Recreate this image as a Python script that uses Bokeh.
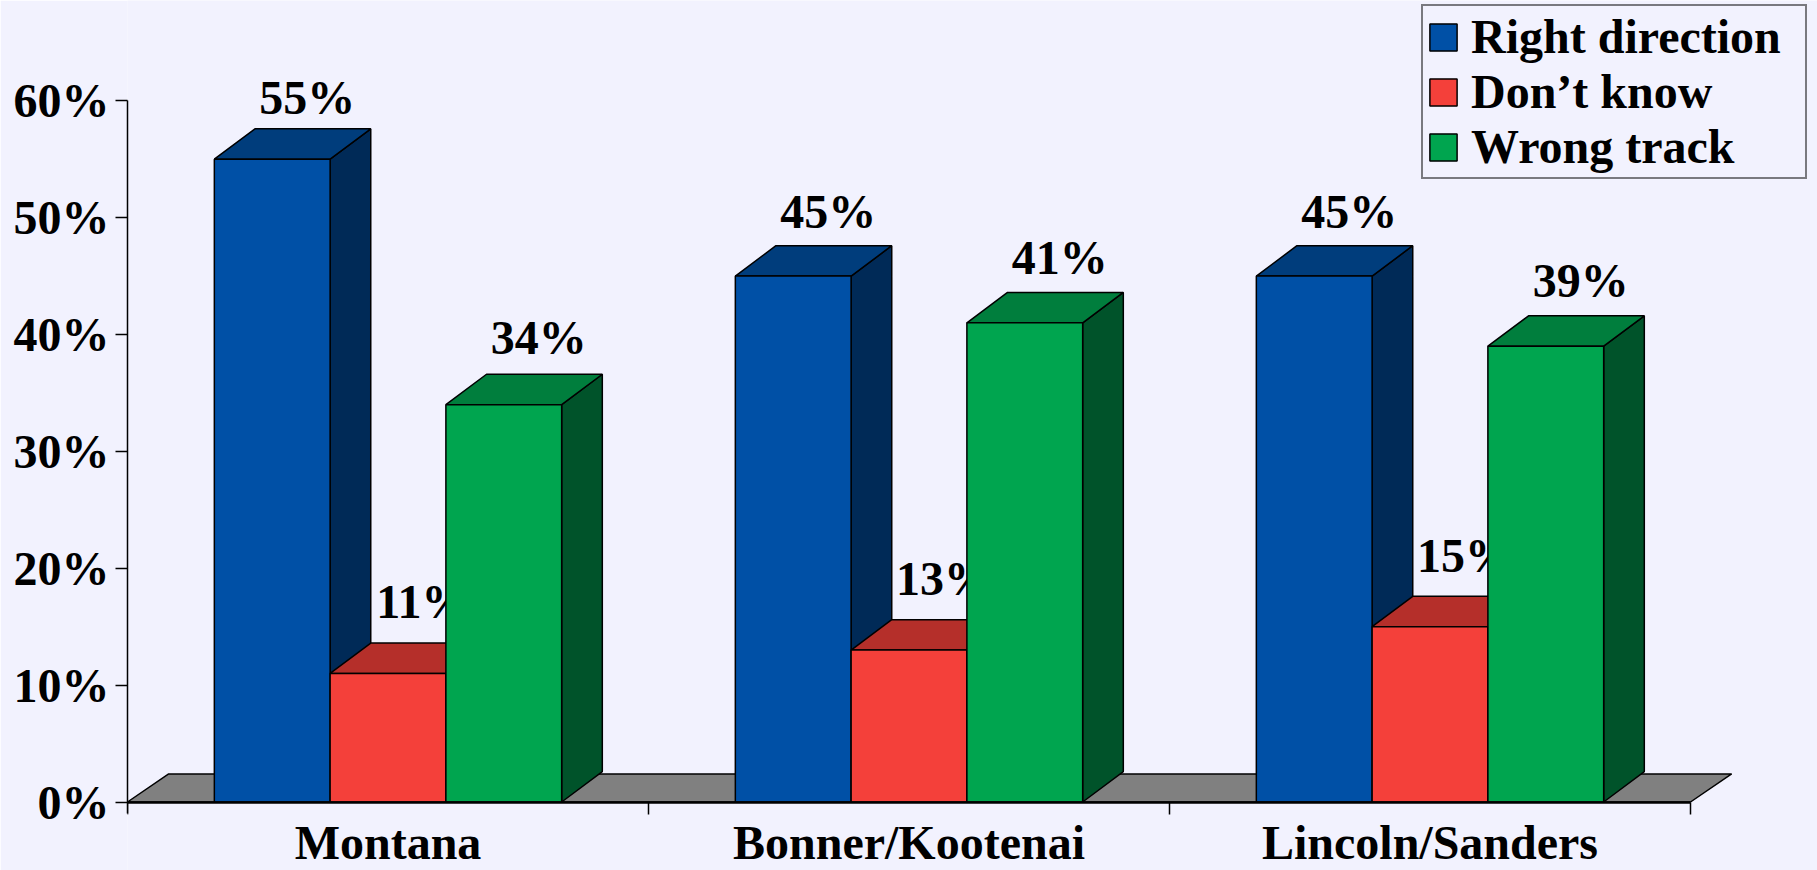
from bokeh.plotting import figure
from bokeh.models import (Range1d, LinearAxis, FixedTicker, PrintfTickFormatter,
                          ColumnDataSource, Legend, LegendItem)
from bokeh.core.properties import value
from bokeh.embed import file_html
from bokeh.resources import INLINE

# ---------------- data ----------------
categories = ["Montana", "Bonner/Kootenai", "Lincoln/Sanders"]
series_names = ["Right direction", "Don\u2019t know", "Wrong track"]
right_direction = [55, 45, 45]
dont_know = [11, 13, 15]
wrong_track = [34, 41, 39]
y_ticks = [0, 10, 20, 30, 40, 50, 60]

# ---------------- style ----------------
BG = "#F2F2FE"
FRONT = ["#0050A6", "#F4403A", "#00A54F"]
TOP = ["#003D7C", "#B52F2A", "#007E3D"]
SIDE = ["#002A57", "#7D1F1B", "#00532A"]
FLOOR = "#808080"
FONT = value("Liberation Serif")
FS = "48px"

BW = 2.0 / 9.0          # bar width (group units)
GAP = 1.0 / 6.0         # gap before first bar in a group
DX, DY = 0.078, 2.6     # 3-D depth for bars
FDX, FDY = 0.079, 2.4   # 3-D depth for floor

PX_X = 521.0
PX_Y = 11.687
W, H = 1817, 870
LEFT = 127
ZERO_Y = 801.5

p = figure(width=W, height=H,
           x_range=Range1d(0, (W - LEFT) / PX_X),
           y_range=Range1d(-(H - ZERO_Y) / PX_Y, ZERO_Y / PX_Y),
           x_axis_type=None, y_axis_type=None,
           output_backend="svg", toolbar_location=None,
           min_border_left=LEFT, min_border_right=0,
           min_border_top=0, min_border_bottom=0,
           background_fill_color=BG, border_fill_color=BG,
           outline_line_color=None)
p.xgrid.visible = False
p.ygrid.visible = False

n = len(categories)

# floor
p.patch([0, n, n + FDX, FDX], [0, 0, FDY, FDY],
        fill_color=FLOOR, line_color="black", line_width=1.5)

series = [right_direction, dont_know, wrong_track]
front_renderers = []
for j, vals in enumerate(series):
    x0 = [i + GAP + j * BW for i in range(n)]
    x1 = [a + BW for a in x0]
    side_xs = [[b, b + DX, b + DX, b] for b in x1]
    side_ys = [[0, DY, v + DY, v] for v in vals]
    top_xs = [[a, b, b + DX, a + DX] for a, b in zip(x0, x1)]
    top_ys = [[v, v, v + DY, v + DY] for v in vals]
    p.patches(side_xs, side_ys, fill_color=SIDE[j], line_color="black", line_width=1.5)
    p.patches(top_xs, top_ys, fill_color=TOP[j], line_color="black", line_width=1.5)
    src = ColumnDataSource(dict(x=[(a + b) / 2 for a, b in zip(x0, x1)], top=vals))
    r = p.vbar(x="x", top="top", bottom=0, width=BW, source=src,
               fill_color=FRONT[j], line_color="black", line_width=1.5)
    front_renderers.append(r)
    lab = ColumnDataSource(dict(x=[(a + b) / 2 + 0.067 for a, b in zip(x0, x1)],
                                y=[0.98 * v + 6.4 for v in vals],
                                t=["%d%%" % v for v in vals]))
    p.text(x="x", y="y", text="t", source=lab, text_font=FONT,
           text_font_style="bold", text_font_size=FS, text_color="black",
           text_align="center", text_baseline="alphabetic")

# y axis
yaxis = LinearAxis(ticker=FixedTicker(ticks=y_ticks),
                   formatter=PrintfTickFormatter(format="%d%%"),
                   bounds=(-1, 60))
yaxis.axis_line_color = "black"
yaxis.axis_line_width = 1.5
yaxis.major_tick_out = 12
yaxis.major_tick_in = 0
yaxis.major_tick_line_width = 1.5
yaxis.minor_tick_line_color = None
yaxis.major_label_standoff = 6
yaxis.major_label_text_font = "Liberation Serif"
yaxis.major_label_text_font_style = "bold"
yaxis.major_label_text_font_size = FS
yaxis.major_label_text_color = "black"
p.add_layout(yaxis, "left")

# x axis (at y = 0)
xaxis = LinearAxis(ticker=FixedTicker(ticks=[i + 0.5 for i in range(n)],
                                      minor_ticks=list(range(n + 1))),
                   major_label_overrides={i + 0.5: c for i, c in enumerate(categories)},
                   bounds=(0, n), fixed_location=0)
xaxis.axis_line_color = "black"
xaxis.axis_line_width = 2.5
xaxis.major_tick_line_color = None
xaxis.major_tick_out = 0
xaxis.major_tick_in = 0
xaxis.minor_tick_out = 12
xaxis.minor_tick_in = 0
xaxis.minor_tick_line_color = "black"
xaxis.minor_tick_line_width = 1.5
xaxis.major_label_standoff = 2
xaxis.major_label_text_font = "Liberation Serif"
xaxis.major_label_text_font_style = "bold"
xaxis.major_label_text_font_size = FS
xaxis.major_label_text_color = "black"
p.add_layout(xaxis, "below")

legend = Legend(items=[LegendItem(label=nm, renderers=[r])
                       for nm, r in zip(series_names, front_renderers)],
                location=(1294, 691), orientation="vertical",
                padding=3, spacing=0, margin=0,
                glyph_width=34, glyph_height=34, label_standoff=11, label_width=331,
                border_line_color="black", border_line_width=2,
                background_fill_color=BG, background_fill_alpha=1.0,
                label_text_font="Liberation Serif", label_text_font_style="bold",
                label_text_font_size=FS, label_text_color="black")
p.add_layout(legend)

open("out.html", "w").write(file_html(p, INLINE))
